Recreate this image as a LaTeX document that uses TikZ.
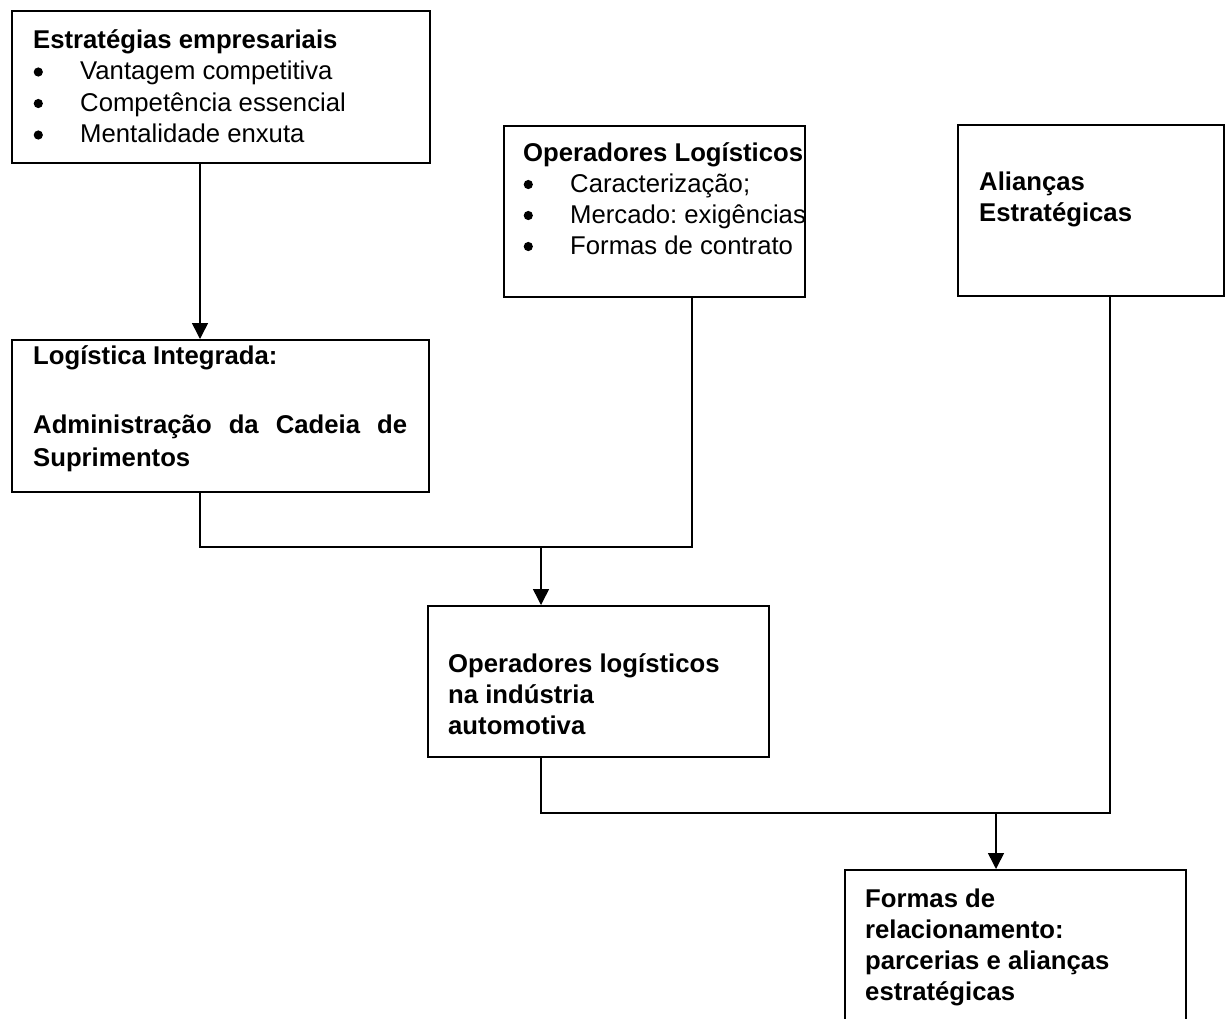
\documentclass[tikz,border=0pt]{standalone}
\usepackage{fontspec}
\setmainfont{Liberation Sans}
\usetikzlibrary{arrows.meta,calc}
\newcommand{\bdot}{\tikz[baseline=-7.5pt]\fill[black] (0,0) circle (4.6pt);}
\newcommand{\bitem}[1]{\makebox[47pt][l]{\hspace{0.5pt}\bdot}#1}
\begin{document}
\frenchspacing
\begin{tikzpicture}[x=1pt,y=1pt,
  box/.style={draw=black,line width=1.8pt,rectangle,anchor=north west,inner sep=0pt,fill=white},
  txt/.style={anchor=base west,inner sep=0pt,font=\fontsize{25.7pt}{31pt}\selectfont},
  conn/.style={draw=black,line width=1.5pt},
  arr/.style={conn,-{Triangle[width=16pt,length=16pt]}}]
\useasboundingbox[fill=white] (0,0) rectangle (1231,-1018);
% boxes
\node[box,minimum width=418pt,minimum height=152pt] (b1) at (11,-10) {};
\node[box,minimum width=301pt,minimum height=171pt] (b2) at (503,-125) {};
\node[box,minimum width=266pt,minimum height=171pt] (b3) at (957,-124) {};
\node[box,minimum width=417pt,minimum height=152pt] (b4) at (11,-339) {};
\node[box,minimum width=341pt,minimum height=151pt] (b5) at (427,-605) {};
\node[box,minimum width=341pt,minimum height=180pt] (b6) at (844,-869) {};
% texts
\node[txt] (t1) at (33,-48) {\parbox[t]{400pt}{\frenchspacing\textbf{Estratégias empresariais}\\[0.5pt]
  \bitem{Vantagem competitiva}\\[0.5pt] \bitem{Competência essencial}\\[0.5pt] \bitem{Mentalidade enxuta}}};
\node[txt] (t2) at (523,-161) {\parbox[t]{290pt}{\frenchspacing\textbf{Operadores Logísticos}\\
  \bitem{Caracterização;}\\ \bitem{Mercado: exigências}\\ \bitem{Formas de contrato}}};
\node[txt] (t3) at (979,-190) {\parbox[t]{240pt}{\bfseries Alianças\\ Estratégicas}};
\node[txt] (t4) at (33,-364) {\parbox[t]{380pt}{\bfseries Logística Integrada:\\[38pt]
  \makebox[374pt][s]{Administração da Cadeia de}\\[2pt] Suprimentos}};
\node[txt] (t5) at (448,-672) {\parbox[t]{310pt}{\bfseries Operadores logísticos\\ na indústria\\ automotiva}};
\node[txt] (t6) at (865,-907) {\parbox[t]{310pt}{\bfseries Formas de\\ relacionamento:\\ parcerias e alianças\\ estratégicas}};
% connector coordinates
\coordinate (c1) at (200,-547);
\coordinate (c2) at (692,-547);
\coordinate (j1) at (541,-547);
\coordinate (c3) at (1110,-813);
\coordinate (j2) at (996,-813);
% connectors
\draw[arr] (b1.south -| c1) -- (b4.north -| c1);
\draw[conn] (b4.south -| c1) -- (c1) -- (c2) -- (b2.south -| c2);
\draw[arr] (j1) -- (b5.north -| j1);
\draw[conn] (b5.south -| j1) |- (c3) -- (b3.south -| c3);
\draw[arr] (j2) -- (b6.north -| j2);
\end{tikzpicture}
\end{document}
